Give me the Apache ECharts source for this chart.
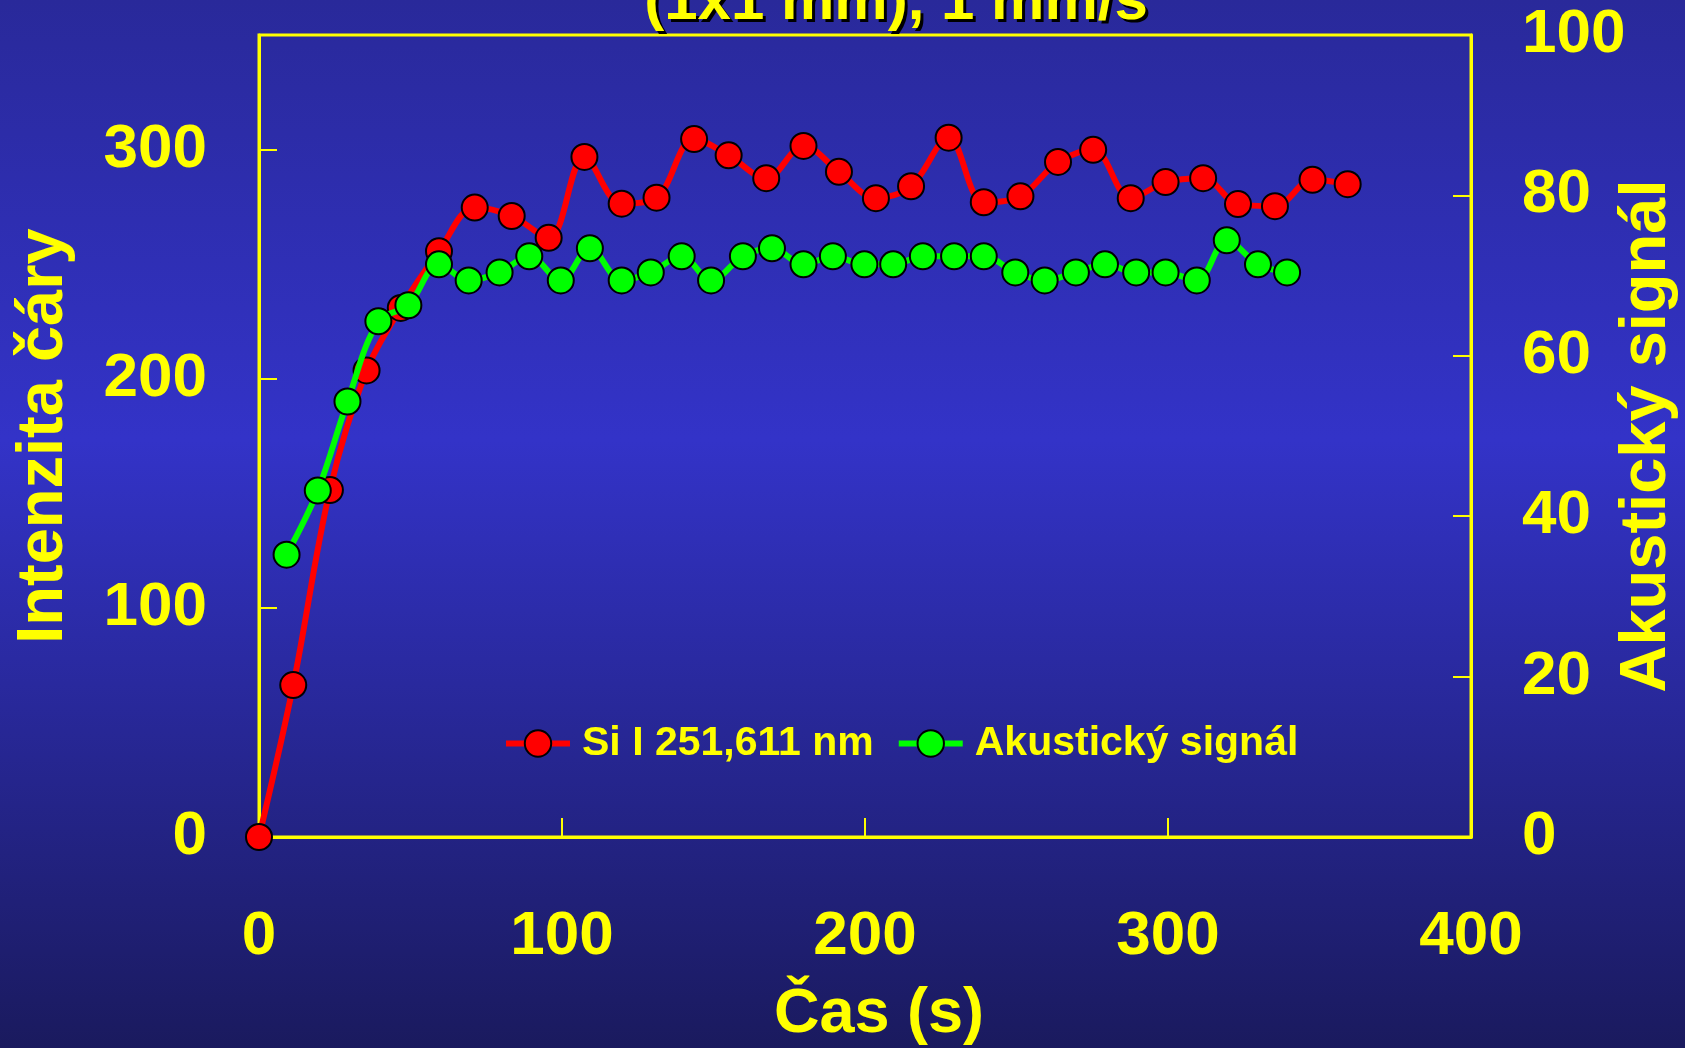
<!DOCTYPE html>
<html>
<head>
<meta charset="utf-8">
<script src="https://cdn.jsdelivr.net/npm/echarts@6/dist/echarts.min.js"></script>
<style>
html,body{margin:0;padding:0;overflow:hidden;}
#chart{width:1685px;height:1048px;background:linear-gradient(180deg,#29299a 0%,#3333c8 42%,#1a1a5e 100%);}
</style>
</head>
<body>
<div id="chart"></div>
<script>
// Si I 251,611 nm line intensity (left axis)
const siTime = [0, 11.3, 23.4, 35.5, 46.8, 59.4, 71.2, 83.4, 95.6, 107.4, 119.7, 131.2, 143.6, 155, 167.4, 179.7, 191.4, 203.6, 215.2, 227.6, 239.2, 251.3, 263.7, 275.3, 287.7, 299.2, 311.6, 323.1, 335.3, 347.7, 359.3];
const siValues = [0, 66.3, 151.4, 203.6, 230.9, 255.6, 274.7, 271, 261.5, 296.8, 276.4, 279, 304.6, 297.5, 287.5, 301.6, 290.3, 278.8, 284, 305.2, 277, 279.6, 294.6, 299.9, 278.8, 285.8, 287.5, 276.2, 275.3, 286.8, 284.9];
// Acoustic signal (right axis)
const acTime = [9.1, 19.4, 29.2, 39.4, 49.3, 59.4, 69.2, 79.4, 89.2, 99.6, 109.2, 119.7, 129.3, 139.5, 149.2, 159.7, 169.3, 179.7, 189.4, 199.8, 209.3, 219.1, 229.4, 239.2, 249.6, 259.3, 269.6, 279.2, 289.5, 299.2, 309.5, 319.4, 329.7, 339.3];
const acValues = [35.2, 43.2, 54.3, 64.3, 66.3, 71.4, 69.4, 70.4, 72.4, 69.4, 73.4, 69.4, 70.4, 72.4, 69.4, 72.4, 73.4, 71.4, 72.4, 71.4, 71.4, 72.4, 72.4, 72.4, 70.4, 69.4, 70.4, 71.4, 70.4, 70.4, 69.4, 74.4, 71.4, 70.4];

const seriesNames = ['Si I 251,611 nm', 'Akustický signál'];
const titleText = '(1x1 mm), 1 mm/s';
const xName = 'Čas (s)';
const yLeftName = 'Intenzita čáry';
const yRightName = 'Akustický signál';

const FONT = '"Liberation Sans", Arial, sans-serif';
const YEL = '#ffff00';

const chart = echarts.init(document.getElementById('chart'), null, {renderer: 'canvas'});

const axisCommon = {
  axisLine: {show: true, lineStyle: {color: YEL, width: 3}},
  axisTick: {show: true, inside: true, length: 18, lineStyle: {color: YEL, width: 2}},
  splitLine: {show: false},
  nameMoveOverlap: false,
  nameTextStyle: {color: YEL, fontSize: 65, fontWeight: 'bold', fontFamily: FONT}
};

chart.setOption({
  backgroundColor: 'transparent',
  animation: false,
  grid: {left: 259, right: 214, top: 35, bottom: 211, show: true, borderColor: YEL, borderWidth: 3,
         backgroundColor: 'transparent', containLabel: false, outerBoundsMode: 'none'},
  graphic: [
    {type: 'text', x: 899, y: 5, z: 10, style: {text: titleText, font: 'bold 60px ' + FONT, fill: '#000000', align: 'center', verticalAlign: 'middle'}},
    {type: 'text', x: 896, y: 2, z: 11, style: {text: titleText, font: 'bold 60px ' + FONT, fill: YEL, align: 'center', verticalAlign: 'middle'}}
  ],
  legend: {
    left: 498, top: 718,
    itemWidth: 64, itemHeight: 33, itemGap: 22,
    lineStyle: {width: 6},
    textStyle: {color: YEL, fontSize: 41, fontWeight: 'bold', fontFamily: FONT, padding: [0, 0, 0, 7]},
    data: seriesNames
  },
  xAxis: Object.assign({}, axisCommon, {
    type: 'value', min: 0, max: 400, interval: 100,
    name: xName, nameLocation: 'middle', nameGap: 146,
    nameTextStyle: Object.assign({}, axisCommon.nameTextStyle, {fontSize: 63, padding: [0, 0, 0, 28]}),
    axisTick: {show: true, inside: true, length: 19, lineStyle: {color: YEL, width: 2}},
    axisLabel: {color: YEL, fontSize: 62, fontWeight: 'bold', fontFamily: FONT, margin: 69}
  }),
  yAxis: [
    Object.assign({}, axisCommon, {
      type: 'value', min: 0, max: 350, interval: 100, position: 'left',
      name: yLeftName, nameLocation: 'middle', nameGap: 182, nameRotate: 90,
      axisLabel: {color: YEL, fontSize: 62, fontWeight: 'bold', fontFamily: FONT, margin: 52, showMaxLabel: false}
    }),
    Object.assign({}, axisCommon, {
      type: 'value', min: 0, max: 100, interval: 20, position: 'right',
      name: yRightName, nameLocation: 'middle', nameGap: 144, nameRotate: 90,
      axisLabel: {color: YEL, fontSize: 62, fontWeight: 'bold', fontFamily: FONT, margin: 51}
    })
  ],
  series: [
    {
      name: seriesNames[0], type: 'line', yAxisIndex: 0, clip: false,
      data: siTime.map((t, i) => [t, siValues[i]]),
      smooth: 0.35, symbol: 'circle', symbolSize: 26,
      lineStyle: {color: '#ff0000', width: 6},
      itemStyle: {color: '#ff0000', borderColor: '#000000', borderWidth: 2},
      z: 3
    },
    {
      name: seriesNames[1], type: 'line', yAxisIndex: 1, clip: false,
      data: acTime.map((t, i) => [t, acValues[i]]),
      smooth: 0.35, symbol: 'circle', symbolSize: 26,
      lineStyle: {color: '#00ff00', width: 6},
      itemStyle: {color: '#00ff00', borderColor: '#000000', borderWidth: 2},
      z: 4
    }
  ]
});
</script>
</body>
</html>
